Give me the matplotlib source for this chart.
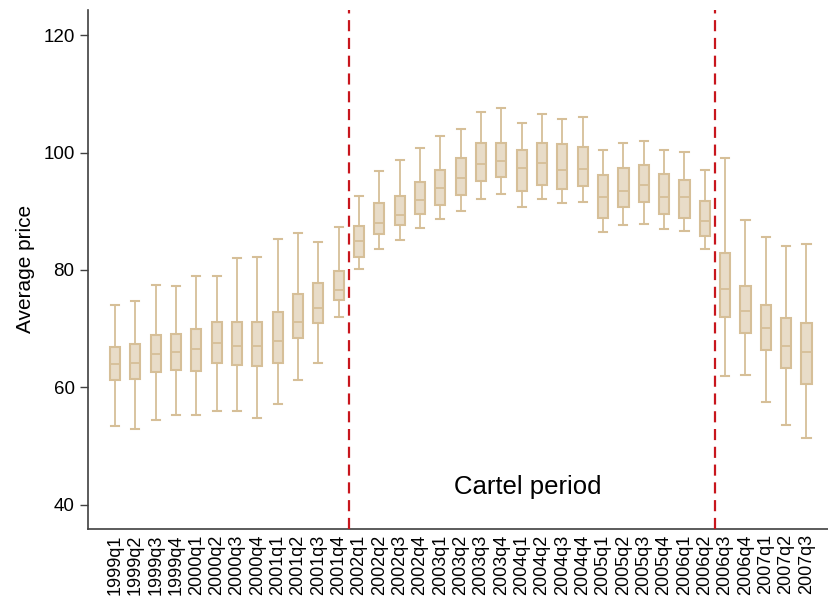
import numpy as np
import matplotlib
matplotlib.use("Agg")
from matplotlib import pyplot as plt

plt.rcParams["font.family"] = ["Liberation Sans", "DejaVu Sans"]

# quarters
quarters = [
    "1999q1", "1999q2", "1999q3", "1999q4",
    "2000q1", "2000q2", "2000q3", "2000q4",
    "2001q1", "2001q2", "2001q3", "2001q4",
    "2002q1", "2002q2", "2002q3", "2002q4",
    "2003q1", "2003q2", "2003q3", "2003q4",
    "2004q1", "2004q2", "2004q3", "2004q4",
    "2005q1", "2005q2", "2005q3", "2005q4",
    "2006q1", "2006q2", "2006q3", "2006q4",
    "2007q1", "2007q2", "2007q3",
]

# box statistics
whis_lo = [53.4, 52.85, 54.4, 55.2, 55.2, 56.0, 56.0, 54.85, 57.1, 61.2, 64.2, 72.05,
           80.1, 83.5, 85.1, 87.2, 88.7, 90.1, 92.15, 93.0, 90.7, 92.05, 91.4, 91.65,
           86.45, 87.6, 87.9, 86.9, 86.6, 83.6, 62.0, 62.1, 57.5, 53.6, 51.4]
q1 = [61.2, 61.35, 62.6, 62.9, 62.8, 64.1, 63.8, 63.6, 64.1, 68.4, 71.0, 74.8,
      82.2, 86.15, 87.7, 89.6, 91.0, 92.8, 95.1, 95.8, 93.45, 94.5, 93.8, 94.35,
      88.8, 90.7, 91.6, 89.6, 88.8, 85.8, 72.0, 69.3, 66.4, 63.3, 60.6]
median = [63.9, 64.1, 65.7, 66.0, 66.55, 67.5, 67.1, 67.0, 67.9, 71.2, 73.55, 76.6,
          85.0, 88.05, 89.3, 91.9, 94.05, 95.7, 98.0, 98.6, 97.35, 98.25, 97.0, 97.15,
          92.4, 93.4, 94.55, 92.45, 92.45, 88.4, 76.8, 73.0, 70.15, 67.1, 66.0]
q3 = [66.8, 67.3, 69.0, 69.1, 70.0, 71.1, 71.1, 71.1, 72.9, 75.95, 77.8, 79.9,
      87.5, 91.4, 92.6, 95.05, 97.0, 99.1, 101.6, 101.7, 100.4, 101.7, 101.5, 101.0,
      96.1, 97.3, 97.9, 96.3, 95.3, 91.7, 82.9, 77.25, 74.1, 71.75, 70.9]
whis_hi = [74.1, 74.65, 77.5, 77.25, 78.95, 78.95, 82.1, 82.2, 85.3, 86.25, 84.7, 87.3,
           92.6, 96.85, 98.7, 100.7, 102.8, 104.1, 106.85, 107.55, 105.0, 106.5, 105.8, 106.05,
           100.4, 101.7, 101.9, 100.4, 100.05, 97.05, 99.1, 88.45, 85.6, 84.05, 84.35]

# cartel period starts after 2001q4 and ends after 2006q2
cartel_start = "2002q1"
cartel_end = "2006q3"

stats = [
    dict(whislo=lo, q1=a, med=m, q3=b, whishi=hi, label=lab)
    for lo, a, m, b, hi, lab in zip(whis_lo, q1, median, q3, whis_hi, quarters)
]

fill = "#e8dcc8"
edge = "#d6bf98"

fig = plt.figure(figsize=(8.29, 6.0), dpi=100)
ax = fig.add_axes([0.1058, 0.1188, 0.894, 0.8645])

pos = np.arange(len(quarters))
ax.bxp(
    stats,
    positions=pos,
    widths=0.5,
    capwidths=0.4,
    showfliers=False,
    patch_artist=True,
    boxprops=dict(facecolor=fill, edgecolor=edge, linewidth=1.5),
    medianprops=dict(color=edge, linewidth=1.3),
    whiskerprops=dict(color=edge, linewidth=1.3),
    capprops=dict(color=edge, linewidth=1.5),
)

for q in (cartel_start, cartel_end):
    ax.axvline(quarters.index(q) - 0.5, color="#c8161d", linewidth=1.6,
               linestyle=(0, (5, 3)), zorder=3)

ax.text(20.3, 43.0, "Cartel period", fontsize=18.5, ha="center", va="center")

ax.set_xlim(-1.34, 35.1)
ax.set_ylim(35.9, 124.3)
ax.set_yticks([40, 60, 80, 100, 120])
ax.set_xticks(pos)
ax.set_xticklabels(quarters, rotation=90, fontsize=13)
ax.tick_params(axis="x", length=0, pad=4)
ax.tick_params(axis="y", labelsize=13.5, length=6, width=1, color="#404040")
ax.set_ylabel("Average price", fontsize=15, labelpad=6)

for side in ("top", "right"):
    ax.spines[side].set_visible(False)
for side in ("left", "bottom"):
    ax.spines[side].set_color("#404040")
    ax.spines[side].set_linewidth(1.2)

fig.savefig("out.png", dpi=100)
